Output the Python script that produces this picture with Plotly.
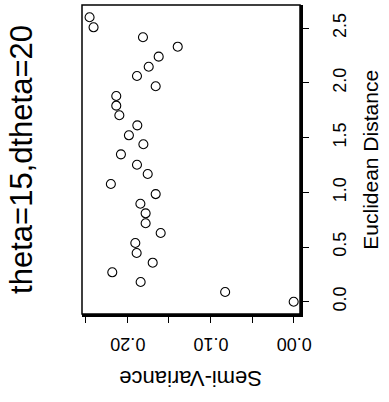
import plotly.graph_objects as go

# Empirical semivariogram (direction theta=15, tolerance dtheta=20)
distance = [0.000, 0.089, 0.180, 0.269, 0.357, 0.445, 0.537, 0.628, 0.717, 0.808,
            0.896, 0.984, 1.076, 1.167, 1.252, 1.347, 1.439, 1.521, 1.612, 1.704,
            1.792, 1.880, 1.969, 2.063, 2.148, 2.240, 2.331, 2.417, 2.508, 2.600]
semivariance = [0.0000, 0.0824, 0.1840, 0.2181, 0.1695, 0.1888, 0.1904, 0.1599, 0.1780, 0.1780,
                0.1843, 0.1659, 0.2198, 0.1755, 0.1884, 0.2077, 0.1807, 0.1981, 0.1880, 0.2096,
                0.2133, 0.2133, 0.1659, 0.1884, 0.1743, 0.1623, 0.1394, 0.1812, 0.2406, 0.2454]

sv_ticks = [0.00, 0.05, 0.10, 0.15, 0.20, 0.25]
sv_labels = ["0.00", "", "0.10", "", "0.20", ""]
dist_ticks = [0.0, 0.5, 1.0, 1.5, 2.0, 2.5]
dist_labels = ["0.0", "0.5", "1.0", "1.5", "2.0", "2.5"]

title_text = "theta=15,dtheta=20"
x_title = "Semi-Variance"
y_title = "Euclidean Distance"

FONT = "Liberation Sans, Arial, sans-serif"

fig = go.Figure(
    go.Scatter(
        x=semivariance,
        y=distance,
        mode="markers",
        marker=dict(symbol="circle-open", size=9, color="black",
                    line=dict(width=1.1, color="black")),
        hoverinfo="skip",
    )
)

fig.update_layout(
    width=389,
    height=402,
    margin=dict(l=82, r=89, t=5, b=88),
    paper_bgcolor="white",
    plot_bgcolor="white",
    showlegend=False,
    font=dict(family=FONT, color="black"),
    xaxis=dict(
        range=[0.2545, -0.0076],
        tickvals=sv_ticks,
        ticktext=sv_labels,
        tickangle=180,
        ticks="outside",
        ticklen=6,
        tickwidth=1,
        tickcolor="black",
        tickfont=dict(size=18, family=FONT, color="black"),
        ticklabelstandoff=12,
        ticklabelshift=17,
        showgrid=False,
        zeroline=False,
        showline=True,
        linecolor="black",
        linewidth=2.5,
    ),
    yaxis=dict(
        side="right",
        range=[-0.112, 2.712],
        tickvals=dist_ticks,
        ticktext=dist_labels,
        tickangle=-90,
        ticks="outside",
        ticklen=6,
        tickwidth=1,
        tickcolor="black",
        tickfont=dict(size=18, family=FONT, color="black"),
        ticklabelstandoff=16,
        showgrid=False,
        zeroline=False,
        showline=True,
        linecolor="black",
        linewidth=2.5,
    ),
)

# Plot frame
fig.add_shape(type="rect", xref="paper", yref="paper", x0=0, y0=0, x1=1, y1=1,
              line=dict(color="black", width=1.5), fillcolor="rgba(0,0,0,0)")

# Title and axis captions, rotated like the rest of the page
fig.add_annotation(text=title_text, xref="paper", yref="paper", x=-0.278, y=0.5,
                   xanchor="center", yanchor="middle", textangle=-90, showarrow=False,
                   font=dict(size=31, family=FONT, color="black"))
fig.add_annotation(text=y_title, xref="paper", yref="paper", x=1.322, y=0.5,
                   xanchor="center", yanchor="middle", textangle=-90, showarrow=False,
                   font=dict(size=21, family=FONT, color="black"))
fig.add_annotation(text=x_title, xref="paper", yref="paper", x=0.5, y=-0.207,
                   xanchor="center", yanchor="middle", textangle=180, showarrow=False,
                   font=dict(size=22, family=FONT, color="black"))

fig.write_html("out.html")
